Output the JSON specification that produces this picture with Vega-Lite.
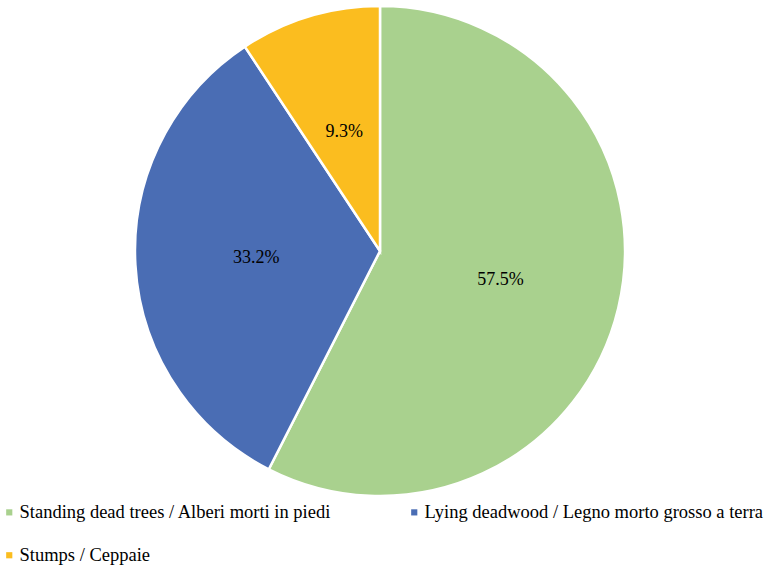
{
  "$schema": "https://vega.github.io/schema/vega-lite/v6.json",
  "width": 760,
  "height": 502,
  "padding": {"left": 0, "top": 0, "right": 6, "bottom": 66},
  "autosize": {"type": "none"},
  "background": "white",
  "config": {"view": {"stroke": null}},
  "data": {"values": [
    {"category": "Standing dead trees / Alberi morti in piedi", "share": 0.575, "idx": 1},
    {"category": "Lying deadwood / Legno morto grosso a terra", "share": 0.332, "idx": 2},
    {"category": "Stumps / Ceppaie", "share": 0.093, "idx": 3}
  ]},
  "encoding": {
    "theta": {"field": "share", "type": "quantitative", "stack": true},
    "order": {"field": "idx", "type": "quantitative"}
  },
  "layer": [
    {
      "mark": {"type": "arc", "outerRadius": 245, "stroke": "white", "strokeWidth": 2.5},
      "encoding": {
        "color": {
          "field": "category", "type": "nominal",
          "scale": {
            "domain": ["Standing dead trees / Alberi morti in piedi", "Stumps / Ceppaie", "Lying deadwood / Legno morto grosso a terra"],
            "range": ["#A9D18E", "#FBBD1F", "#4A6DB4"]
          },
          "legend": {
            "title": null,
            "orient": "none",
            "legendX": 0,
            "legendY": 503,
            "columns": 2,
            "columnPadding": 73,
            "rowPadding": 24,
            "symbolType": "square",
            "symbolSize": 38,
            "symbolStrokeWidth": 0,
            "labelFont": "Liberation Serif",
            "labelFontSize": 18.5,
            "labelColor": "#000000",
            "labelOffset": 1,
            "labelLimit": 400
          }
        }
      }
    },
    {
      "mark": {"type": "text", "radius": 124, "font": "Liberation Serif", "fontSize": 18, "color": "#000000", "align": "center", "baseline": "middle"},
      "encoding": {
        "text": {"field": "share", "type": "quantitative", "format": ".1%"}
      }
    }
  ]
}
